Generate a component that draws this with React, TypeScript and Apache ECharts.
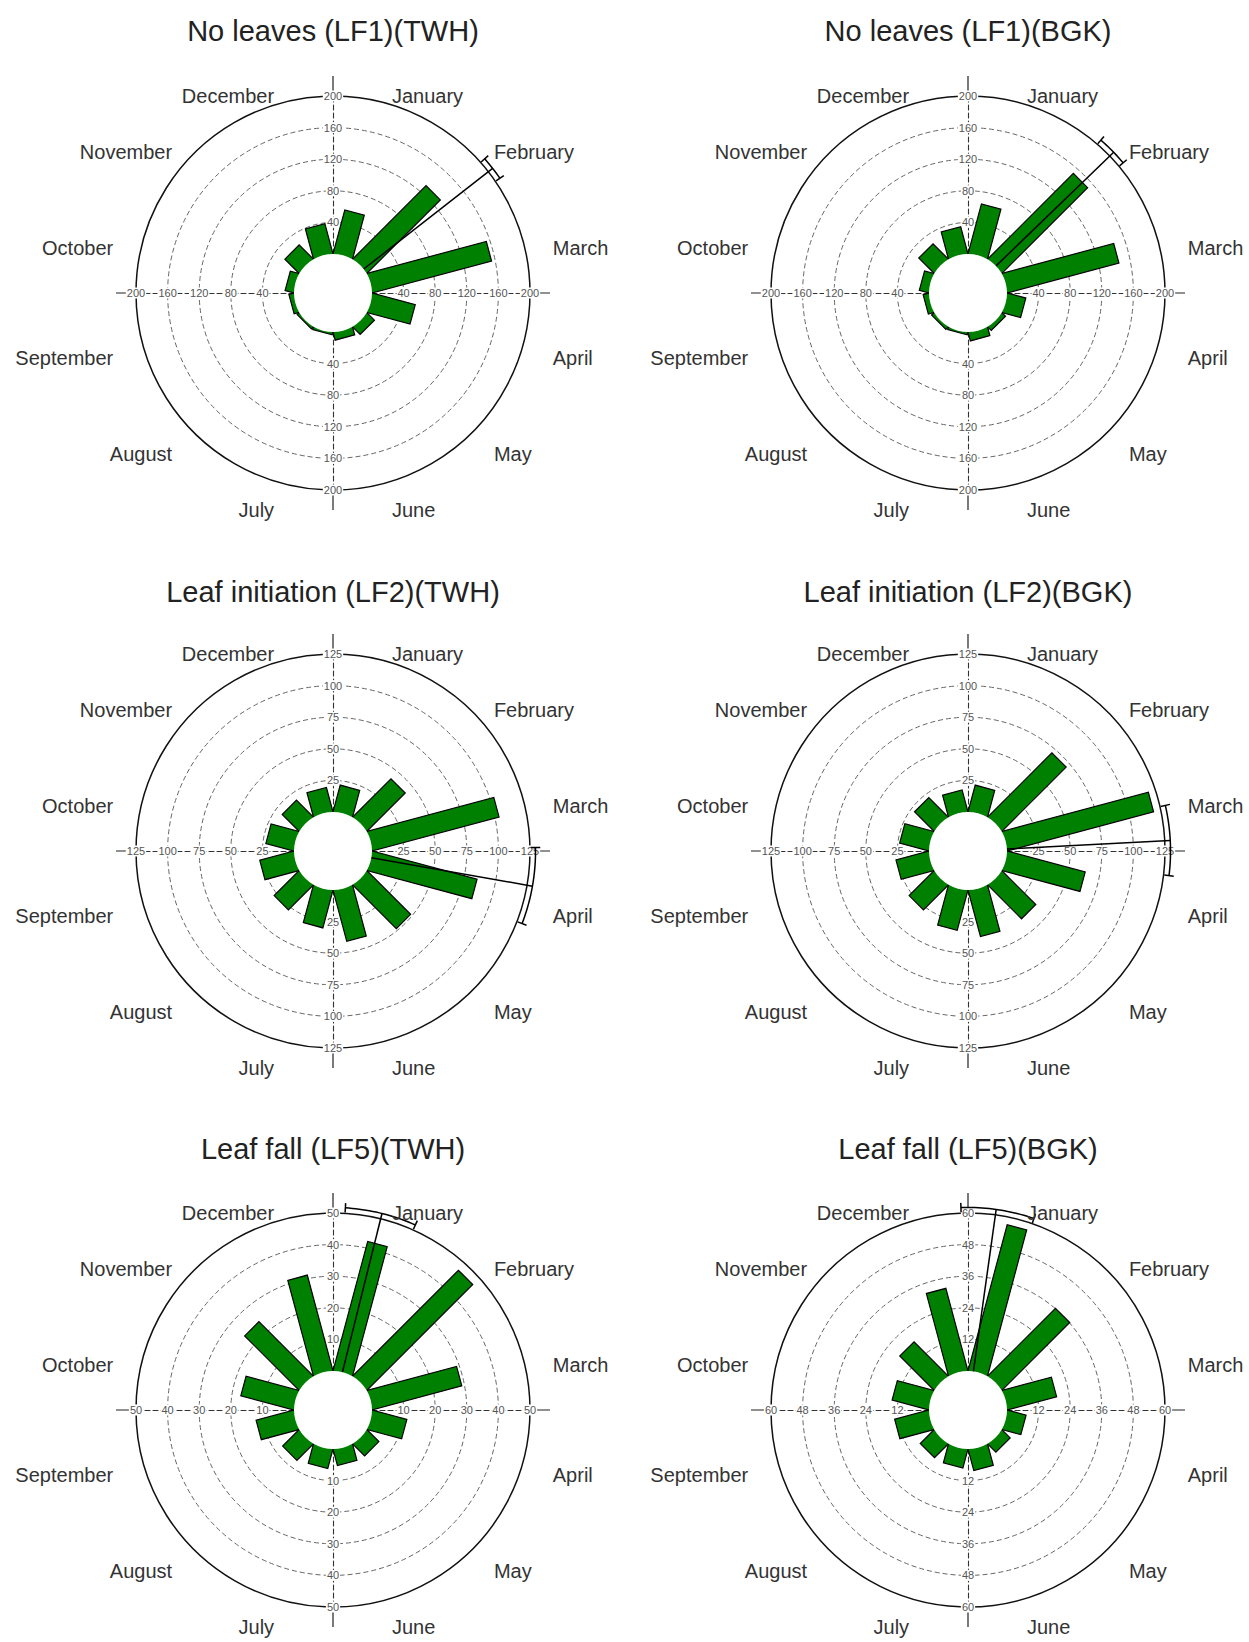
import React, { useEffect, useRef } from "react";
import * as echarts from "echarts";

// ---------- data ----------
const months = [
  "January", "February", "March", "April", "May", "June",
  "July", "August", "September", "October", "November", "December",
];
const panelTitles = [
  "No leaves (LF1)(TWH)",
  "No leaves (LF1)(BGK)",
  "Leaf initiation (LF2)(TWH)",
  "Leaf initiation (LF2)(BGK)",
  "Leaf fall (LF5)(TWH)",
  "Leaf fall (LF5)(BGK)",
];
const lf1TWH = [56, 130, 155, 55, 12, 9, 2, 2, 5, 10, 24, 38];
const lf1BGK = [64, 152, 145, 23, 5, 10, 2, 3, 6, 11, 26, 34];
const lf2TWH = [21, 42, 103, 85, 48, 41, 30, 27, 27, 22, 18, 19];
const lf2BGK = [21, 71, 119, 63, 37, 37, 32, 27, 26, 23, 21, 17];
const lf5TWH = [42, 47, 29, 11, 5, 5, 6, 7, 12, 17, 24, 31];
const lf5BGK = [57, 36, 19, 7, 4, 8, 7, 7, 13, 14, 18, 32];
const panelValues = [lf1TWH, lf1BGK, lf2TWH, lf2BGK, lf5TWH, lf5BGK];
const radialMax = [200, 200, 125, 125, 50, 60];
const radialStep = [40, 40, 25, 25, 10, 12];
const meanAngle = [52, 46, 100, 87, 14, 8];
const ciLow = [48.5, 41, 89, 77, 3.5, -2];
const ciHigh = [55.5, 50, 111, 97, 24, 19];

// ---------- layout ----------
const W = 1249;
const H = 1642;
const colX = [333, 968];
const rowY = [293, 851, 1410];
const titleY = [31, 592, 1149];
const R_OUT = 197;
const R_IN = 39;
const FONT = "Liberation Sans, Arial, sans-serif";
const GREEN = "#008000";

const monthAngle = (i: number) => 15 + 30 * i;

function barItem(params: any, api: any) {
  const cs = params.coordSys;
  const tip = api.coord([api.value(0), api.value(1)]);
  const dx = tip[0] - cs.cx;
  const dy = tip[1] - cs.cy;
  const len = Math.hypot(dx, dy) || 1;
  const ux = dx / len;
  const uy = dy / len;
  const hw = cs.r0 * Math.sin(Math.PI / 12);
  const nx = -uy * hw;
  const ny = ux * hw;
  return {
    type: "polygon",
    shape: {
      points: [
        [cs.cx + nx, cs.cy + ny],
        [tip[0] + nx, tip[1] + ny],
        [tip[0] - nx, tip[1] - ny],
        [cs.cx - nx, cs.cy - ny],
      ],
    },
    style: { fill: GREEN, stroke: "#000", lineWidth: 1.2 },
  };
}

function holeItem(params: any) {
  const cs = params.coordSys;
  return {
    type: "circle",
    shape: { cx: cs.cx, cy: cs.cy, r: cs.r0 },
    style: { fill: "#fff", stroke: "none" },
  };
}

function makeMeanItem(max: number) {
  return (params: any, api: any) => {
    const mean = api.value(1);
    const lo = api.value(2);
    const hi = api.value(3);
    const rc = max * 1.035;
    const d = max * 0.03;
    const p0 = api.coord([0, mean]);
    const p1 = api.coord([rc, mean]);
    const arc: number[][] = [];
    const n = Math.max(2, Math.ceil(hi - lo));
    for (let k = 0; k <= n; k++) {
      arc.push(api.coord([rc, lo + ((hi - lo) * k) / n]));
    }
    const c1a = api.coord([rc - d, lo]);
    const c1b = api.coord([rc + d, lo]);
    const c2a = api.coord([rc - d, hi]);
    const c2b = api.coord([rc + d, hi]);
    const st = { stroke: "#000", lineWidth: 1.5, fill: "none" };
    return {
      type: "group",
      children: [
        { type: "line", shape: { x1: p0[0], y1: p0[1], x2: p1[0], y2: p1[1] }, style: st },
        { type: "polyline", shape: { points: arc }, style: st },
        { type: "line", shape: { x1: c1a[0], y1: c1a[1], x2: c1b[0], y2: c1b[1] }, style: st },
        { type: "line", shape: { x1: c2a[0], y1: c2a[1], x2: c2b[0], y2: c2b[1] }, style: st },
      ],
    };
  };
}

function monthLabelItem(params: any, api: any) {
  const cs = params.coordSys;
  const p = api.coord([api.value(0), api.value(1)]);
  const dx = p[0] - cs.cx;
  const dy = p[1] - cs.cy;
  return {
    type: "text",
    x: cs.cx + dx * 1.155,
    y: cs.cy + dy * 1.086,
    style: {
      text: months[params.dataIndex],
      align: dx >= 0 ? "left" : "right",
      verticalAlign: "top",
      fontSize: 20,
      fontFamily: FONT,
      fill: "#333",
    },
  };
}

function buildOption() {
  const polar: any[] = [];
  const angleAxis: any[] = [];
  const radiusAxis: any[] = [];
  const series: any[] = [];
  const title: any[] = [];
  const armAngles = [90, 0, 270, 180];

  panelValues.forEach((vals, p) => {
    const cx = colX[p % 2];
    const cy = rowY[Math.floor(p / 2)];
    const max = radialMax[p];
    const step = radialStep[p];
    const mainIdx = p * 4;

    title.push({
      text: panelTitles[p],
      left: cx,
      top: titleY[Math.floor(p / 2)],
      textAlign: "center",
      textVerticalAlign: "middle",
      padding: 0,
      textStyle: { fontSize: 29, fontWeight: "normal", color: "#222", fontFamily: FONT },
    });

    armAngles.forEach((sa, k) => {
      const idx = p * 4 + k;
      polar.push({ center: [cx, cy], radius: [R_IN, R_OUT] });
      angleAxis.push({
        polarIndex: idx,
        type: "value",
        min: 0,
        max: 360,
        interval: 90,
        startAngle: sa,
        clockwise: true,
        show: k === 0,
        axisLine: { show: true, lineStyle: { color: "#111", width: 1.5 } },
        axisTick: { show: true, length: 20, lineStyle: { color: "#222", width: 1.2 } },
        axisLabel: { show: false },
        splitLine: { show: false },
      });
      radiusAxis.push({
        polarIndex: idx,
        type: "value",
        min: 0,
        max: max,
        interval: step,
        z: 1,
        axisLine: { show: true, lineStyle: { color: "#333", width: 1.1, type: [5, 3] } },
        axisTick: { show: false },
        axisLabel: {
          show: true,
          showMinLabel: false,
          margin: 0,
          align: "center",
          verticalAlign: "middle",
          fontSize: 11,
          color: "#555",
          fontFamily: FONT,
          backgroundColor: "#fff",
          padding: [0, 1],
        },
        splitLine: {
          show: k === 0,
          lineStyle: {
            color: ["rgba(0,0,0,0)", "#666", "#666", "#666", "#666", "rgba(0,0,0,0)"],
            type: [5, 3],
            width: 1,
          },
        },
      });
    });

    series.push({
      type: "custom",
      coordinateSystem: "polar",
      polarIndex: mainIdx,
      silent: true,
      z: 2,
      renderItem: barItem,
      data: vals.map((v, i) => [v, monthAngle(i)]),
    });
    series.push({
      type: "custom",
      coordinateSystem: "polar",
      polarIndex: mainIdx,
      silent: true,
      z: 3,
      renderItem: holeItem,
      data: [[0, 0]],
    });
    series.push({
      type: "custom",
      coordinateSystem: "polar",
      polarIndex: mainIdx,
      silent: true,
      z: 4,
      renderItem: makeMeanItem(max),
      data: [[0, meanAngle[p], ciLow[p], ciHigh[p]]],
    });
    series.push({
      type: "custom",
      coordinateSystem: "polar",
      polarIndex: mainIdx,
      silent: true,
      z: 4,
      renderItem: monthLabelItem,
      data: months.map((_, i) => [max, monthAngle(i)]),
    });
  });

  return {
    animation: false,
    backgroundColor: "#fff",
    title,
    polar,
    angleAxis,
    radiusAxis,
    series,
  };
}

export default function App() {
  const ref = useRef<HTMLDivElement>(null);
  useEffect(() => {
    if (!ref.current) return;
    const chart = echarts.init(ref.current, undefined, { renderer: "svg" });
    chart.setOption(buildOption() as any);
    return () => chart.dispose();
  }, []);
  return (
    <div
      ref={ref}
      style={{ position: "absolute", left: 0, top: 0, width: W, height: H, background: "#fff" }}
    />
  );
}
